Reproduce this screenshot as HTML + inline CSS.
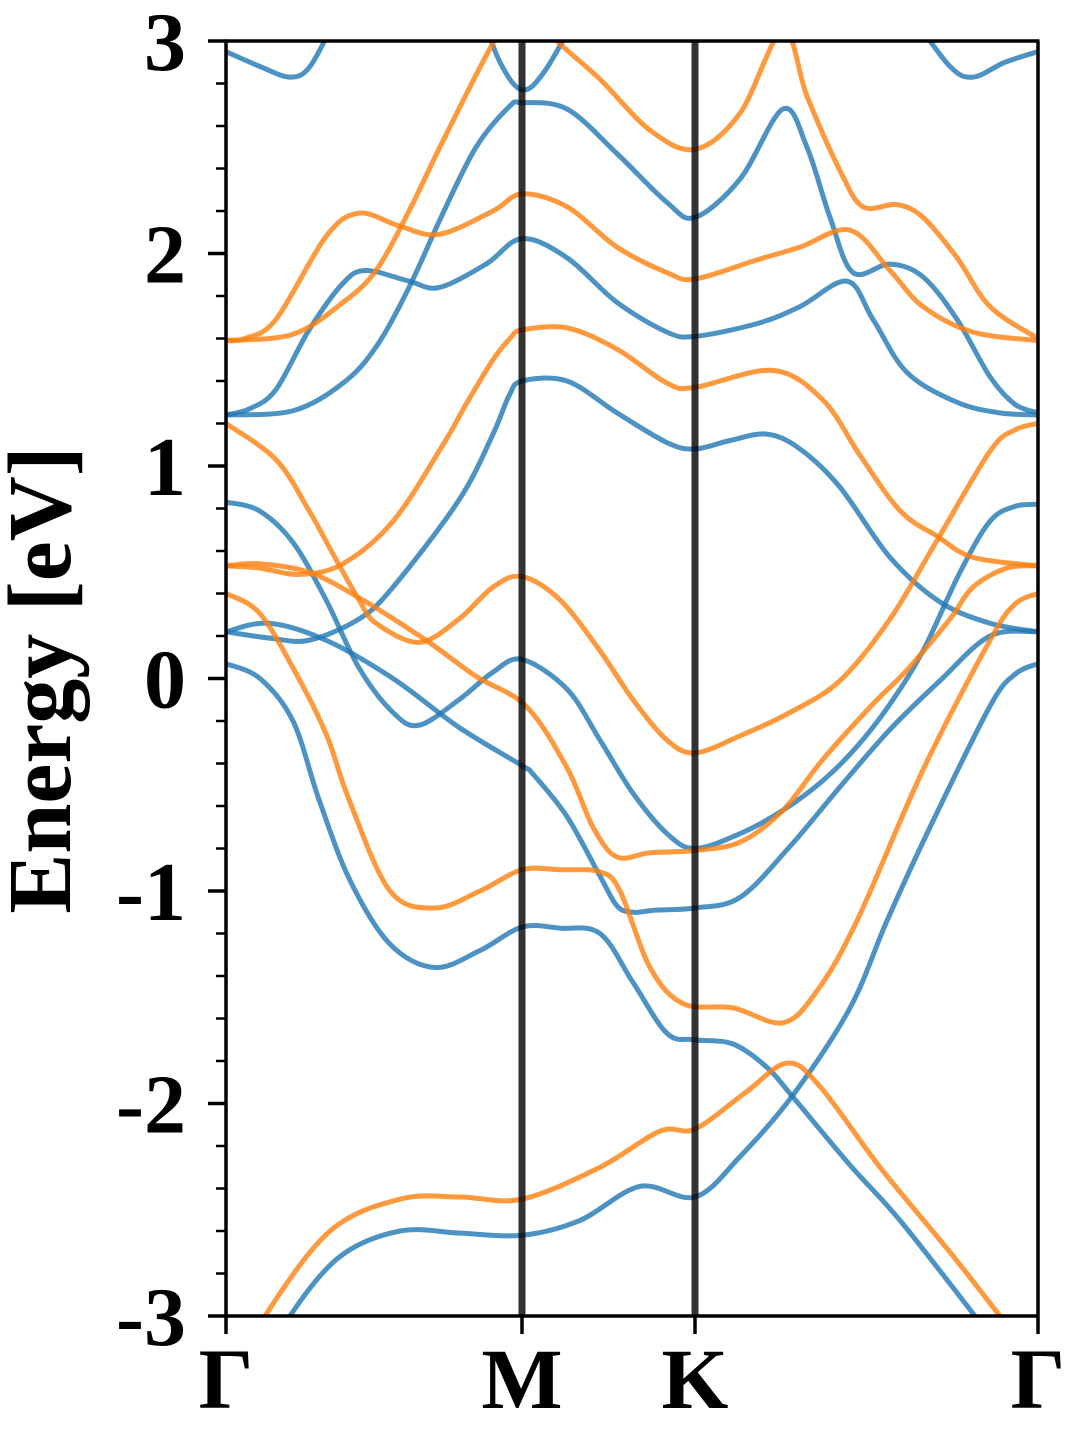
<!DOCTYPE html>
<html>
<head>
<meta charset="utf-8">
<style>
html,body{margin:0;padding:0;background:#fff;}
svg{display:block;}
text{font-family:"Liberation Serif",serif;font-weight:bold;fill:#000;}
</style>
</head>
<body>
<svg id="chart" width="1080" height="1440" viewBox="0 0 1080 1440" xmlns="http://www.w3.org/2000/svg">
  <defs><clipPath id="plotclip"><rect x="226" y="41" width="812" height="1275"/></clipPath></defs>
  <g id="bands" clip-path="url(#plotclip)"></g>
  <g id="axes"></g>
</svg>
<script>
// k-path labels and positions (k-distance units)
const kLabels = ["Γ","M","K","Γ"];
const kTicks = [0, 2.96, 4.69, 8.12];
const yTicks = [-3,-2,-1,0,1,2,3];
const yTickLabels = ["-3","-2","-1","0","1","2","3"];
const yMinorStep = 0.2;
const yTitle = "Energy [eV]";

// spin-up (blue) bands
const bu1_k = [0.39,0.64,1.14,1.74,2.34,2.96,3.54,4.14,4.69,5.14,5.67,6.24,6.61,7.04,7.64,7.89,8.12];
const bu1_e = [-3.25,-3.0,-2.72,-2.6,-2.61,-2.62,-2.55,-2.39,-2.44,-2.25,-1.96,-1.55,-1.14,-0.7,-0.13,0.02,0.07];
const bu2_k = [0,0.34,0.67,0.93,1.24,1.64,2.09,2.54,2.96,3.34,3.74,4.07,4.41,4.69,5.07,5.41,5.67,6.24,6.74,7.49,7.74];
const bu2_e = [0.07,0.0,-0.2,-0.57,-0.95,-1.25,-1.36,-1.28,-1.17,-1.175,-1.2,-1.43,-1.67,-1.7,-1.72,-1.83,-1.97,-2.29,-2.55,-3.0,-3.15];
const bu3_k = [0,0.43,1.0,1.67,2.33,2.96,3.07,3.41,3.74,3.91,4.07,4.30,4.69,5.14,5.64,6.14,6.64,7.14,7.64,8.12];
const bu3_e = [0.22,0.26,0.18,0.0,-0.23,-0.41,-0.45,-0.65,-0.93,-1.07,-1.1,-1.09,-1.08,-1.03,-0.79,-0.51,-0.24,-0.01,0.2,0.22];
const bu4_k = [0,0.33,0.67,1.0,1.33,1.67,1.93,2.33,2.67,2.96,3.41,3.74,4.07,4.41,4.69,5.14,5.57,5.97,6.31,6.64,6.97,7.34,7.64,7.89,8.12];
const bu4_e = [0.83,0.79,0.64,0.37,0.05,-0.16,-0.22,-0.1,0.03,0.09,-0.05,-0.29,-0.54,-0.73,-0.8,-0.73,-0.62,-0.48,-0.32,-0.12,0.13,0.5,0.74,0.81,0.82];
const bu5_k = [0,0.44,0.83,1.33,1.67,2.33,2.67,2.83,2.96,3.41,3.91,4.41,4.69,5.04,5.41,5.74,6.14,6.64,7.14,7.64,8.12];
const bu5_e = [0.22,0.19,0.18,0.28,0.43,0.84,1.15,1.33,1.4,1.4,1.25,1.11,1.08,1.12,1.15,1.08,0.9,0.57,0.36,0.26,0.22];
const bu6_k = [0,0.24,0.5,0.83,1.17,1.4,1.83,2.13,2.6,2.96,3.41,3.91,4.41,4.69,5.31,5.74,6.21,6.47,6.81,7.31,7.74,8.12];
const bu6_e = [1.24,1.27,1.36,1.64,1.86,1.92,1.87,1.84,1.95,2.07,1.98,1.77,1.63,1.61,1.67,1.75,1.87,1.69,1.44,1.3,1.25,1.24];
const bu7_k = [0,0.67,1.17,1.5,1.83,2.17,2.5,2.83,2.96,3.41,3.91,4.41,4.69,5.14,5.57,5.81,6.04,6.27,6.64,6.97,7.31,7.64,7.89,8.12];
const bu7_e = [1.24,1.26,1.39,1.56,1.84,2.19,2.5,2.69,2.71,2.68,2.47,2.24,2.17,2.35,2.68,2.5,2.17,1.91,1.95,1.89,1.69,1.42,1.29,1.25];
const bu8_k = [0,0.34,0.64,0.84,1.09];
const bu8_e = [2.95,2.88,2.83,2.88,3.1];
const bu9_k = [2.54,2.74,2.96,3.19,3.54];
const bu9_e = [3.15,2.9,2.77,2.86,3.15];
const bu10_k = [6.89,7.24,7.47,7.79,8.12];
const bu10_e = [3.1,2.88,2.83,2.9,2.95];

// spin-down (orange) bands
const od1_k = [0.14,0.39,1.04,1.74,2.34,2.96,3.74,4.34,4.69,5.19,5.61,5.94,6.54,7.24,7.74,7.94];
const od1_e = [-3.25,-3.0,-2.6,-2.45,-2.44,-2.45,-2.3,-2.13,-2.12,-1.95,-1.81,-1.92,-2.3,-2.7,-3.0,-3.12];
const od2_k = [0,0.33,0.67,1.0,1.23,1.64,2.09,2.54,2.96,3.34,3.74,3.94,4.24,4.57,5.07,5.57,5.91,6.31,6.97,7.64,7.89,8.12];
const od2_e = [0.4,0.31,0.05,-0.26,-0.57,-1.0,-1.08,-1.0,-0.9,-0.9,-0.91,-1.0,-1.36,-1.53,-1.55,-1.62,-1.47,-1.14,-0.43,0.18,0.35,0.4];
const od3_k = [0,0.33,0.83,1.33,2.0,2.5,3.0,3.41,3.67,3.91,4.24,4.67,5.14,5.57,5.97,6.47,6.81,7.24,7.47,7.81,8.12];
const od3_e = [0.53,0.54,0.5,0.38,0.18,0.01,-0.13,-0.42,-0.7,-0.84,-0.82,-0.81,-0.77,-0.62,-0.38,-0.12,0.04,0.28,0.43,0.52,0.53];
const od4_k = [0,0.33,0.74,1.17,1.67,2.17,2.4,2.67,2.84,2.96,3.41,3.91,4.41,4.69,5.47,5.97,6.34,6.74,7.11,7.47,8.12];
const od4_e = [0.53,0.52,0.49,0.54,0.74,1.1,1.29,1.5,1.6,1.64,1.65,1.55,1.39,1.37,1.45,1.31,1.05,0.79,0.67,0.57,0.53];
const od5_k = [0,0.5,0.83,1.1,1.33,1.5,1.93,2.33,2.67,2.96,3.34,3.74,4.07,4.41,4.69,5.14,5.64,6.14,6.64,7.11,7.64,7.89,8.12];
const od5_e = [1.2,1.03,0.79,0.56,0.37,0.26,0.17,0.28,0.43,0.48,0.37,0.13,-0.1,-0.29,-0.35,-0.27,-0.16,-0.01,0.28,0.65,1.07,1.17,1.2];
const od6_k = [0,0.19,0.5,1.0,1.33,1.73,2.13,2.67,2.96,3.41,3.91,4.41,4.69,5.31,5.74,6.24,6.64,6.97,7.47,8.12];
const od6_e = [1.59,1.6,1.69,2.08,2.19,2.13,2.09,2.2,2.28,2.22,2.03,1.91,1.88,1.97,2.03,2.11,1.92,1.75,1.63,1.59];
const od7_k = [0,0.67,1.17,1.5,1.83,2.17,2.67,2.96,3.31,3.74,4.24,4.69,5.14,5.57,5.81,6.14,6.37,6.71,6.97,7.31,7.64,8.12];
const od7_e = [1.59,1.62,1.77,1.92,2.2,2.53,2.99,3.18,3.0,2.82,2.58,2.49,2.66,3.05,2.74,2.39,2.22,2.23,2.17,1.98,1.75,1.6];

const upBands = [[bu1_k,bu1_e],[bu2_k,bu2_e],[bu3_k,bu3_e],[bu4_k,bu4_e],[bu5_k,bu5_e],[bu6_k,bu6_e],[bu7_k,bu7_e],[bu8_k,bu8_e],[bu9_k,bu9_e],[bu10_k,bu10_e]];
const downBands = [[od1_k,od1_e],[od2_k,od2_e],[od3_k,od3_e],[od4_k,od4_e],[od5_k,od5_e],[od6_k,od6_e],[od7_k,od7_e]];

const NS = "http://www.w3.org/2000/svg";
const X0 = 226, X1 = 1038, Y0 = 1316, Y1 = 41;
const kMax = kTicks[kTicks.length-1];
const eMin = -3, eMax = 3;
function xs(k){ return X0 + (k/kMax)*(X1-X0); }
function ys(e){ return Y0 - (e-eMin)/(eMax-eMin)*(Y0-Y1); }

function smoothPath(ks, es){
  const p = ks.map((k,i)=>[xs(k), ys(es[i])]);
  let d = "M"+p[0][0].toFixed(2)+","+p[0][1].toFixed(2);
  for(let i=0;i<p.length-1;i++){
    const a = p[i-1]||p[i], b=p[i], c=p[i+1], e=p[i+2]||p[i+1];
    const c1x = b[0]+(c[0]-a[0])/6, c1y = b[1]+(c[1]-a[1])/6;
    const c2x = c[0]-(e[0]-b[0])/6, c2y = c[1]-(e[1]-b[1])/6;
    d += " C"+c1x.toFixed(2)+","+c1y.toFixed(2)+" "+c2x.toFixed(2)+","+c2y.toFixed(2)+" "+c[0].toFixed(2)+","+c[1].toFixed(2);
  }
  return d;
}

const bandsG = document.getElementById("bands");
upBands.forEach((b,i)=>{
  const path = document.createElementNS(NS,"path");
  path.setAttribute("d", smoothPath(b[0], b[1]));
  path.setAttribute("fill","none");
  path.setAttribute("stroke","#1f77b4");
  path.setAttribute("stroke-opacity","0.8");
  path.setAttribute("stroke-width","5");
  path.setAttribute("stroke-linejoin","round");
  
  
  bandsG.appendChild(path);
});
downBands.forEach((b,i)=>{
  const path = document.createElementNS(NS,"path");
  path.setAttribute("d", smoothPath(b[0], b[1]));
  path.setAttribute("fill","none");
  path.setAttribute("stroke","#ff7f0e");
  path.setAttribute("stroke-opacity","0.8");
  path.setAttribute("stroke-width","5");
  path.setAttribute("stroke-linejoin","round");
  
  
  bandsG.appendChild(path);
});

const axesG = document.getElementById("axes");
function line(x1,y1,x2,y2,stroke,w,name,op){
  const l = document.createElementNS(NS,"line");
  l.setAttribute("x1",x1); l.setAttribute("y1",y1);
  l.setAttribute("x2",x2); l.setAttribute("y2",y2);
  l.setAttribute("stroke",stroke); l.setAttribute("stroke-width",w);
  if(op) l.setAttribute("stroke-opacity",op);
  
  
  axesG.appendChild(l);
  return l;
}
// high-symmetry vertical lines
kTicks.slice(1,-1).forEach((k,i)=>{
  line(xs(k),Y1,xs(k),Y0,"#000",7,"high-symmetry-line-"+kLabels[i+1],"0.8");
});
// frame
line(X0,Y1,X0,Y0+1.5,"#000",3.5,"left-spine");
line(X0-1.5,Y0,X1+1.5,Y0,"#000",3.5,"bottom-spine");
line(X0-1.5,Y1,X1+1.5,Y1,"#000",3.5,"top-spine");
line(X1,Y1,X1,Y0,"#000",3.5,"right-spine");
// minor y ticks
for(let v=eMin; v<=eMax+1e-9; v+=yMinorStep){
  const isMajor = Math.abs(v-Math.round(v))<1e-6;
  if(!isMajor) line(X0-10,ys(v),X0,ys(v),"#000",2.5,"y-minor-tick");
}
// major y ticks + labels
yTicks.forEach((v,i)=>{
  line(X0-18,ys(v),X0,ys(v),"#000",3.5,"y-major-tick");
  const t = document.createElementNS(NS,"text");
  t.setAttribute("x",186); t.setAttribute("y",ys(v)+29);
  t.setAttribute("text-anchor","end");
  t.setAttribute("font-size","84");
  t.textContent = yTickLabels[i];
  
  
  axesG.appendChild(t);
});
// x ticks + labels
kTicks.forEach((k,i)=>{
  line(xs(k),Y0,xs(k),Y0+18,"#000",3.5,"x-tick");
  const t = document.createElementNS(NS,"text");
  t.setAttribute("x",xs(k)); t.setAttribute("y",1408);
  t.setAttribute("text-anchor","middle");
  t.setAttribute("font-size","86");
  t.textContent = kLabels[i];
  
  
  axesG.appendChild(t);
});
// y title
const yt = document.createElementNS(NS,"text");
yt.setAttribute("transform","translate(70,680) rotate(-90)");
yt.setAttribute("text-anchor","middle");
yt.setAttribute("font-size","90");
yt.textContent = yTitle;


axesG.appendChild(yt);
</script>
</body>
</html>
